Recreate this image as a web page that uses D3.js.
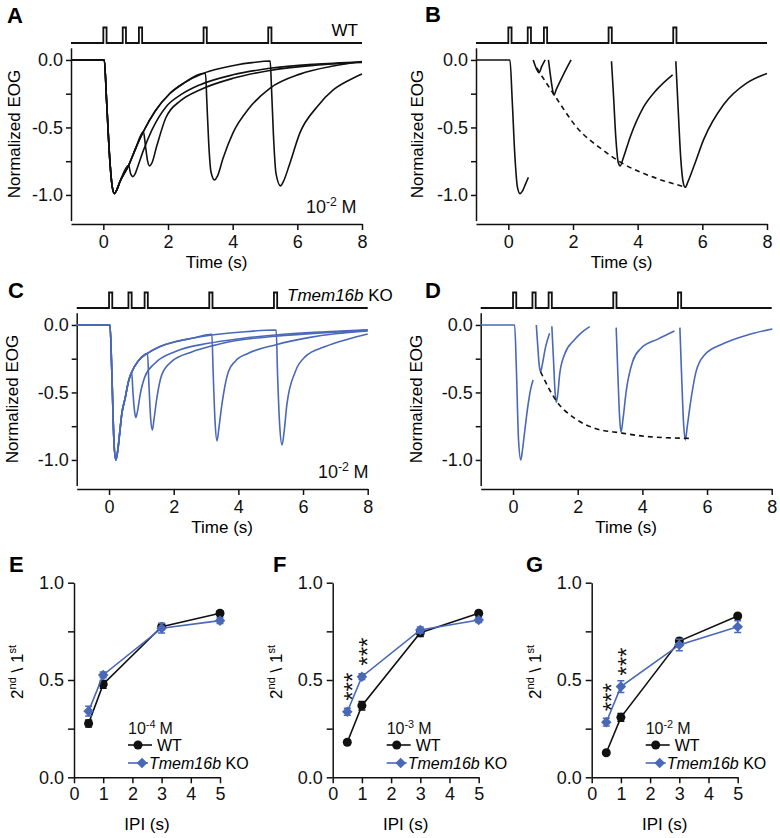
<!DOCTYPE html>
<html>
<head>
<meta charset="utf-8">
<script src="https://cdn.jsdelivr.net/npm/d3@7"></script>
<style>
  body { margin: 0; background: #fff; }
  svg text { font-family: "Liberation Sans", Arial, sans-serif; }
</style>
</head>
<body>
<svg id="fig" width="780" height="838"></svg>
<script>
// stimulus protocol (s)
var stimTimes = [0, 0.6, 1.1, 3.1, 5.1];
var stimWidth = 0.1;

// A: WT sweeps, 10^-2 M  [time (s), normalized EOG]
var aFirst = [[-1,0],[0.03,0],[0.1,-0.3],[0.2,-0.74],[0.27,-0.93],[0.34,-0.99],[0.42,-0.96],[0.5,-0.91],[0.785,-0.78],[1.0,-0.655],[1.24,-0.53],[1.6,-0.38],[2.05,-0.25],[2.5,-0.17],[3.08,-0.1],[3.6,-0.063],[4.11,-0.037],[4.6,-0.02],[5.15,-0.008]];
var aIpi05 = [[0.785,-0.78],[0.84,-0.84],[0.91,-0.864],[0.97,-0.85],[1.05,-0.8],[1.24,-0.67],[1.5,-0.52],[1.93,-0.35],[2.45,-0.25],[2.98,-0.185],[4.01,-0.11],[5.15,-0.062],[6.5,-0.032],[8,-0.015]];
var aIpi1 = [[1.24,-0.53],[1.3,-0.63],[1.37,-0.75],[1.43,-0.785],[1.5,-0.765],[1.65,-0.64],[1.93,-0.43],[2.4,-0.3],[2.98,-0.222],[4.01,-0.136],[5.15,-0.078],[6.5,-0.04],[8,-0.018]];
var aIpi3 = [[3.16,-0.1],[3.2,-0.3],[3.26,-0.62],[3.33,-0.83],[3.44,-0.889],[3.53,-0.86],[3.7,-0.73],[4.01,-0.54],[4.5,-0.36],[5.15,-0.21],[6.08,-0.105],[7.11,-0.045],[8,-0.012]];
var aIpi5 = [[5.16,-0.008],[5.2,-0.2],[5.26,-0.55],[5.34,-0.84],[5.48,-0.933],[5.57,-0.9],[5.75,-0.78],[6.08,-0.54],[6.6,-0.35],[7.11,-0.222],[7.6,-0.15],[8,-0.104]];

// B: WT, second responses isolated
var bFirst = [[-1,0],[0.05,0],[0.12,-0.3],[0.2,-0.7],[0.28,-0.94],[0.36,-0.99],[0.44,-0.97],[0.53,-0.92],[0.62,-0.87]];
var bIpi05 = [[0.77,0],[0.86,-0.06],[0.95,-0.094],[1.03,-0.05],[1.14,0]];
var bIpi1 = [[1.24,0],[1.3,-0.11],[1.36,-0.21],[1.41,-0.26],[1.48,-0.22],[1.7,-0.11],[1.94,0]];
var bIpi3 = [[3.19,-0.01],[3.25,-0.25],[3.32,-0.56],[3.4,-0.76],[3.46,-0.785],[3.55,-0.73],[3.77,-0.57],[4.18,-0.35],[4.59,-0.22],[5.08,-0.11]];
var bIpi5 = [[5.18,-0.01],[5.25,-0.35],[5.33,-0.72],[5.41,-0.91],[5.47,-0.943],[5.56,-0.9],[5.75,-0.78],[6.04,-0.59],[6.66,-0.33],[7.38,-0.17],[8,-0.1]];
var bDecay = [[0.88,-0.06],[1.2,-0.18],[1.45,-0.27],[2.12,-0.5],[2.94,-0.67],[3.56,-0.77],[4.39,-0.86],[5.42,-0.938]];

// C: Tmem16b KO sweeps, 10^-2 M
var cFirst = [[-1,0],[0.03,0],[0.08,-0.3],[0.15,-0.85],[0.21,-1.0],[0.27,-0.93],[0.33,-0.8],[0.39,-0.667],[0.5,-0.54],[0.6,-0.42],[0.7,-0.35],[0.91,-0.265],[1.19,-0.21],[1.53,-0.165],[2.04,-0.125],[2.6,-0.097],[3.18,-0.075],[4.1,-0.052],[5.16,-0.037]];
var cIpi05 = [[0.7,-0.35],[0.74,-0.5],[0.79,-0.64],[0.83,-0.686],[0.88,-0.64],[0.96,-0.52],[1.11,-0.383],[1.42,-0.284],[2.04,-0.198],[3.07,-0.136],[4.1,-0.1],[5.14,-0.074],[6.69,-0.05],[8,-0.035]];
var cIpi1 = [[1.19,-0.21],[1.23,-0.42],[1.29,-0.7],[1.34,-0.778],[1.39,-0.7],[1.48,-0.54],[1.63,-0.37],[1.94,-0.27],[2.56,-0.2],[3.18,-0.155],[4.1,-0.11],[5.14,-0.084],[6.69,-0.057],[8,-0.04]];
var cIpi3 = [[3.18,-0.069],[3.22,-0.35],[3.28,-0.72],[3.34,-0.859],[3.4,-0.76],[3.49,-0.59],[3.69,-0.346],[3.9,-0.27],[4.31,-0.21],[5.14,-0.148],[6.17,-0.094],[7,-0.065],[8,-0.044]];
var cIpi5 = [[5.17,-0.037],[5.21,-0.35],[5.28,-0.75],[5.35,-0.889],[5.42,-0.78],[5.5,-0.59],[5.76,-0.346],[6.07,-0.235],[6.69,-0.16],[7.41,-0.104],[8,-0.067]];

// D: KO, second responses isolated
var dFirst = [[-1,0],[0.05,0],[0.1,-0.3],[0.17,-0.85],[0.24,-1.0],[0.29,-0.93],[0.36,-0.79],[0.46,-0.6],[0.55,-0.47],[0.62,-0.407]];
var dIpi05 = [[0.72,0],[0.76,-0.14],[0.81,-0.3],[0.85,-0.346],[0.9,-0.3],[1.0,-0.17],[1.13,-0.062]];
var dIpi1 = [[1.2,-0.01],[1.25,-0.25],[1.3,-0.5],[1.34,-0.573],[1.39,-0.5],[1.44,-0.37],[1.59,-0.22],[1.9,-0.11],[2.1,-0.06],[2.37,-0.012]];
var dIpi3 = [[3.19,-0.02],[3.24,-0.35],[3.3,-0.7],[3.34,-0.795],[3.4,-0.7],[3.5,-0.49],[3.7,-0.27],[3.96,-0.173],[4.48,-0.105],[4.99,-0.044]];
var dIpi5 = [[5.16,-0.02],[5.21,-0.35],[5.28,-0.75],[5.33,-0.852],[5.39,-0.75],[5.48,-0.59],[5.66,-0.346],[5.92,-0.222],[6.53,-0.136],[7.25,-0.074],[8.02,-0.03]];
var dDecay = [[0.85,-0.346],[1.34,-0.563],[1.9,-0.69],[2.52,-0.765],[3.34,-0.8],[4.17,-0.827],[5.45,-0.84]];

// E-G: 2nd/1st ratio vs inter-pulse interval
var ipiValues = [0.5, 1, 3, 5];
var eWT = [0.277, 0.478, 0.774, 0.843], eWTerr = [0.018, 0.02, 0.015, 0.012];
var eKO = [0.34, 0.526, 0.766, 0.805], eKOerr = [0.025, 0.015, 0.025, 0.015];
var fWT = [0.18, 0.368, 0.743, 0.843], fWTerr = [0.012, 0.022, 0.02, 0.012];
var fKO = [0.337, 0.517, 0.757, 0.808], fKOerr = [0.018, 0.015, 0.015, 0.012];
var gWT = [0.126, 0.308, 0.70, 0.829], gWTerr = [0.008, 0.02, 0.015, 0.012];
var gKO = [0.283, 0.466, 0.68, 0.774], gKOerr = [0.02, 0.03, 0.03, 0.03];

var black = "#111", blue = "#4a68b8";
var svg = d3.select("#fig");

// join first response with the departing second response
function sweep(first, second) {
  return first.filter(function(p){ return p[0] < second[0][0]; }).concat(second);
}

function concLabel(g, x, y, exp, size) {
  var t = g.append("text").attr("x", x).attr("y", y).attr("font-size", size).attr("fill", black);
  t.append("tspan").text("10");
  t.append("tspan").attr("dy", -size * 0.4).attr("font-size", size * 0.68).text(exp);
  t.append("tspan").attr("dy", size * 0.4).attr("dx", size * 0.25).text("M");
}

function styleAxis(ax, size) {
  ax.attr("font-size", size).attr("font-family", "Liberation Sans, Arial, sans-serif");
  ax.selectAll("path, line").attr("stroke", black).attr("stroke-width", 1.5);
  ax.selectAll("text").attr("fill", black);
}

function tracePanel(p) {
  var g = svg.append("g");
  var x = d3.scaleLinear().domain([-1, 8]).range([p.left, p.left + 291]);
  var y = d3.scaleLinear().domain([-1.19, 0.09]).range([p.zeroY + 160.6, p.zeroY - 12.2]);

  // stimulus trace
  var base = p.zeroY - 17, high = p.zeroY - 32.5;
  var sp = [[p.left, base]];
  stimTimes.forEach(function(t){
    sp.push([x(t), base], [x(t), high], [x(t + stimWidth), high], [x(t + stimWidth), base]);
  });
  sp.push([p.left + 291, base]);
  g.append("path").attr("d", d3.line()(sp)).attr("fill", "none")
    .attr("stroke", black).attr("stroke-width", 1.8);

  var yAx = g.append("g").attr("transform", "translate(" + p.left + ",0)")
    .call(d3.axisLeft(y).tickValues([0, -0.25, -0.5, -0.75, -1]).tickSize(5).tickSizeOuter(0).tickPadding(3)
      .tickFormat(function(d){ return d % 0.5 === 0 ? d.toFixed(1) : ""; }));
  styleAxis(yAx, 18);
  var xAx = g.append("g").attr("transform", "translate(0," + (p.zeroY + 164) + ")")
    .call(d3.axisBottom(x).tickValues([0, 2, 4, 6, 8]).tickSize(6).tickSizeOuter(0).tickPadding(5));
  styleAxis(xAx, 18);

  g.append("text").attr("x", (p.left + p.left + 291) / 2).attr("y", p.zeroY + 208)
    .attr("text-anchor", "middle").attr("font-size", 17).text("Time (s)");
  g.append("text").attr("transform", "translate(" + p.titleX + "," + (p.zeroY + 74) + ") rotate(-90)")
    .attr("text-anchor", "middle").attr("font-size", 17).text("Normalized EOG");

  var line = d3.line().x(function(d){ return x(d[0]); }).y(function(d){ return y(d[1]); })
    .curve(d3.curveMonotoneX);
  p.traces.forEach(function(tr){
    g.append("path").attr("d", line(tr)).attr("fill", "none")
      .attr("stroke", p.color).attr("stroke-width", 1.6).attr("stroke-linejoin", "round");
  });
  if (p.decay) {
    g.append("path").attr("d", line(p.decay)).attr("fill", "none")
      .attr("stroke", black).attr("stroke-width", 1.6).attr("stroke-dasharray", "5,4");
  }
  g.append("text").attr("x", p.letter[0]).attr("y", p.letter[1])
    .attr("font-size", 22).attr("font-weight", "bold").text(p.name);
  return g;
}

var gA = tracePanel({ name: "A", letter: [7, 23], left: 71, zeroY: 60, titleX: 20, color: black,
  traces: [sweep(aFirst, aIpi05), sweep(aFirst, aIpi1), sweep(aFirst, aIpi3), sweep(aFirst, aIpi5)] });
gA.append("text").attr("x", 358).attr("y", 36).attr("text-anchor", "end").attr("font-size", 17).text("WT");
concLabel(gA, 306, 213, "-2", 18);

tracePanel({ name: "B", letter: [425, 22], left: 476, zeroY: 60, titleX: 423, color: black,
  traces: [bFirst, bIpi05, bIpi1, bIpi3, bIpi5], decay: bDecay });

var gC = tracePanel({ name: "C", letter: [8, 298], left: 76.7, zeroY: 325, titleX: 18, color: blue,
  traces: [sweep(cFirst, cIpi05), sweep(cFirst, cIpi1), sweep(cFirst, cIpi3), sweep(cFirst, cIpi5)] });
var ko = gC.append("text").attr("x", 287).attr("y", 301).attr("font-size", 17);
ko.append("tspan").attr("font-style", "italic").text("Tmem16b");
ko.append("tspan").text(" KO");
concLabel(gC, 318, 478, "-2", 18);

tracePanel({ name: "D", letter: [425, 298], left: 480.7, zeroY: 325, titleX: 422, color: blue,
  traces: [dFirst, dIpi05, dIpi1, dIpi3, dIpi5], decay: dDecay });

function ratioPanel(p) {
  var g = svg.append("g");
  var x = d3.scaleLinear().domain([0, 5]).range([p.left, p.left + 146]);
  var y = d3.scaleLinear().domain([0, 1]).range([777.3, 582.7]);

  var yAx = g.append("g").attr("transform", "translate(" + p.left + ",0)")
    .call(d3.axisLeft(y).tickValues([0, 0.25, 0.5, 0.75, 1]).tickSize(6).tickSizeOuter(0).tickPadding(4)
      .tickFormat(function(d){ return d % 0.5 === 0 ? d.toFixed(1) : ""; }));
  styleAxis(yAx, 18);
  var xAx = g.append("g").attr("transform", "translate(0,777.3)")
    .call(d3.axisBottom(x).tickValues([0, 1, 2, 3, 4, 5]).tickSize(6).tickSizeOuter(0).tickPadding(4)
      .tickFormat(d3.format("d")));
  styleAxis(xAx, 18);

  g.append("text").attr("x", p.left + 73).attr("y", 830).attr("text-anchor", "middle")
    .attr("font-size", 17).text("IPI (s)");
  var yt = g.append("text").attr("transform", "translate(" + (p.left - 51) + ",672) rotate(-90)")
    .attr("text-anchor", "middle").attr("font-size", 17);
  yt.append("tspan").text("2");
  yt.append("tspan").attr("dy", -7).attr("font-size", 11).text("nd");
  yt.append("tspan").attr("dy", 7).text(" \\ 1");
  yt.append("tspan").attr("dy", -7).attr("font-size", 11).text("st");

  var series = [
    { vals: p.wt, err: p.wtErr, color: black, shape: "circle" },
    { vals: p.ko, err: p.koErr, color: blue, shape: "diamond" }
  ];
  series.forEach(function(s){
    var pts = ipiValues.map(function(v, i){ return [v, s.vals[i], s.err[i]]; });
    g.append("path").attr("d", d3.line().x(function(d){ return x(d[0]); }).y(function(d){ return y(d[1]); })(pts))
      .attr("fill", "none").attr("stroke", s.color).attr("stroke-width", 1.6);
    pts.forEach(function(d){
      var cx = x(d[0]), y1 = y(d[1] + d[2]), y2 = y(d[1] - d[2]);
      g.append("path").attr("d", "M" + cx + "," + y1 + "V" + y2 + "M" + (cx - 3.5) + "," + y1 + "h7M" + (cx - 3.5) + "," + y2 + "h7")
        .attr("stroke", s.color).attr("stroke-width", 1.5).attr("fill", "none");
      marker(g, cx, y(d[1]), s.shape, s.color);
    });
  });

  p.stars.forEach(function(v){
    var i = ipiValues.indexOf(v);
    g.append("text").attr("transform", "translate(" + (x(v) + 14) + "," + (y(p.ko[i]) - 25) + ") rotate(-90)")
      .attr("text-anchor", "middle").attr("font-size", 24).attr("fill", black).text("***");
  });

  // legend
  var lx = p.left + 54;
  concLabel(g, lx, 734, p.exp, 16);
  g.append("line").attr("x1", lx).attr("x2", lx + 24).attr("y1", 745).attr("y2", 745)
    .attr("stroke", black).attr("stroke-width", 1.6);
  marker(g, lx + 10, 745, "circle", black);
  g.append("text").attr("x", lx + 29).attr("y", 751).attr("font-size", 16).text("WT");
  g.append("line").attr("x1", lx).attr("x2", lx + 20).attr("y1", 763).attr("y2", 763)
    .attr("stroke", blue).attr("stroke-width", 1.6);
  marker(g, lx + 14, 763, "diamond", blue);
  var kt = g.append("text").attr("x", lx + 21).attr("y", 769).attr("font-size", 16);
  kt.append("tspan").attr("font-style", "italic").text("Tmem16b");
  kt.append("tspan").text(" KO");

  g.append("text").attr("x", p.letter[0]).attr("y", p.letter[1])
    .attr("font-size", 22).attr("font-weight", "bold").text(p.name);
}

function marker(g, cx, cy, shape, color) {
  if (shape === "circle") {
    g.append("circle").attr("cx", cx).attr("cy", cy).attr("r", 4.5).attr("fill", color);
  } else {
    g.append("path").attr("d", d3.symbol().type(d3.symbolSquare).size(56)())
      .attr("transform", "translate(" + cx + "," + cy + ") rotate(45)").attr("fill", color);
  }
}

ratioPanel({ name: "E", letter: [9, 572], left: 74, wt: eWT, wtErr: eWTerr, ko: eKO, koErr: eKOerr, stars: [], exp: "-4" });
ratioPanel({ name: "F", letter: [273, 572], left: 332.7, wt: fWT, wtErr: fWTerr, ko: fKO, koErr: fKOerr, stars: [0.5, 1], exp: "-3" });
ratioPanel({ name: "G", letter: [526, 572], left: 591.7, wt: gWT, wtErr: gWTerr, ko: gKO, koErr: gKOerr, stars: [0.5, 1], exp: "-2" });
</script>
</body>
</html>
